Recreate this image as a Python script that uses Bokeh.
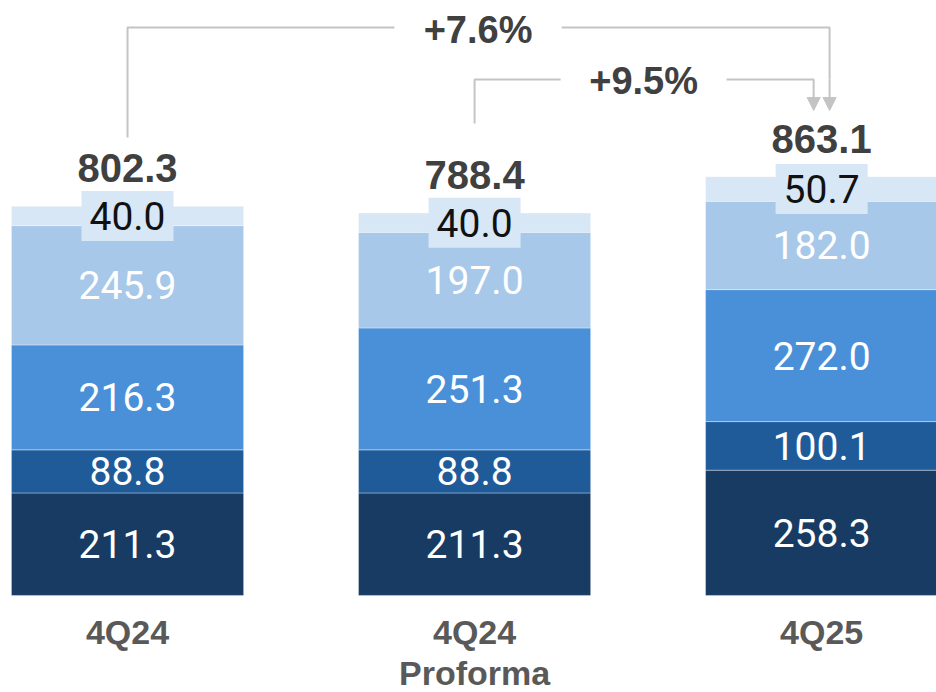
from bokeh.plotting import figure
from bokeh.models import ColumnDataSource, Arrow, NormalHead
from bokeh.core.properties import value
from bokeh.embed import file_html
from bokeh.resources import INLINE

# ---- data ----
periods = ["4Q24", "4Q24\nProforma", "4Q25"]
seg_a = [211.3, 211.3, 258.3]   # bottom (navy)
seg_b = [88.8, 88.8, 100.1]
seg_c = [216.3, 251.3, 272.0]
seg_d = [245.9, 197.0, 182.0]
seg_e = [40.0, 40.0, 50.7]      # top (palest)
totals = [802.3, 788.4, 863.1]
growth_labels = ["+7.6%", "+9.5%"]

series = ["a", "b", "c", "d", "e"]
colors = ["#173b63", "#205b99", "#4a90d9", "#a8c8ea", "#d8e7f6"]
label_colors = ["#ffffff", "#ffffff", "#ffffff", "#ffffff", "#111111"]
REG = value("Roboto")
BOLD = value("Liberation Sans")

xs = [0, 1, 2]
src = ColumnDataSource(dict(x=xs, a=seg_a, b=seg_b, c=seg_c, d=seg_d, e=seg_e))

p = figure(width=936, height=692, x_range=(-0.366, 2.331), y_range=(-200, 1226.3),
           output_backend="svg", toolbar_location=None, min_border=0)
p.outline_line_color = None
p.grid.visible = False
p.axis.visible = False

BAR_W = 0.669
p.vbar_stack(series, x="x", width=BAR_W, color=colors, source=src,
             line_color="#ffffff", line_alpha=0.35, line_width=1)

# segment value labels at the middle of each segment
vals = [seg_a, seg_b, seg_c, seg_d, seg_e]
for i in range(3):
    base = 0.0
    for k, seg in enumerate(vals):
        mid = base + seg[i] / 2
        base += seg[i]
        kw = dict(text_font=REG, text_font_size="39px", text_color=label_colors[k],
                  text_align="center", text_baseline="middle")
        if k == 4:
            kw.update(background_fill_color=colors[4],
                      padding=dict(left=8, right=8, top=11, bottom=11))
        p.text(x=[xs[i]], y=[mid], text=[f"{seg[i]:.1f}"], **kw)

# totals above the bars
p.text(x=xs, y=totals, text=[f"{t:.1f}" for t in totals], text_font=BOLD,
       text_font_size="40px", text_font_style="bold", text_color="#404040",
       text_align="center", text_baseline="middle", y_offset=-38)

# category labels under the bars
p.text(x=xs, y=[-76] * 3, text=[c.split("\n")[0] for c in periods], text_font=BOLD,
       text_font_size="34px", text_font_style="bold", text_color="#595959",
       text_align="center", text_baseline="middle")
p.text(x=[1], y=[-160], text=[periods[1].split("\n")[1]], text_font=BOLD,
       text_font_size="34px", text_font_style="bold", text_color="#595959",
       text_align="center", text_baseline="middle")

# growth connectors
GRAY = "#c4c4c4"
lvl1, lvl2, tip = 1170.6, 1063.5, 999.6
p.line([0, 0, 0.769], [944, lvl1, lvl1], line_color=GRAY, line_width=2)
p.line([1.251, 2.023, 2.023], [lvl1, lvl1, lvl2], line_color=GRAY, line_width=2)
p.line([1, 1, 1.248], [972.8, lvl2, lvl2], line_color=GRAY, line_width=2)
p.line([1.726, 1.977, 1.977], [lvl2, lvl2, lvl2 - 20], line_color=GRAY, line_width=2)
for xa, ys in [(2.023, lvl2), (1.977, lvl2 - 20)]:
    p.add_layout(Arrow(end=NormalHead(size=13, fill_color=GRAY, line_color=GRAY),
                       x_start=xa, y_start=ys, x_end=xa, y_end=tip,
                       line_color=GRAY, line_width=2))

p.text(x=[1.010, 1.487], y=[1164.5, 1061.4], text=growth_labels, text_font=BOLD,
       text_font_size="38px", text_font_style="bold", text_color="#404040",
       text_align="center", text_baseline="middle")

open("out.html", "w").write(file_html(p, INLINE))
